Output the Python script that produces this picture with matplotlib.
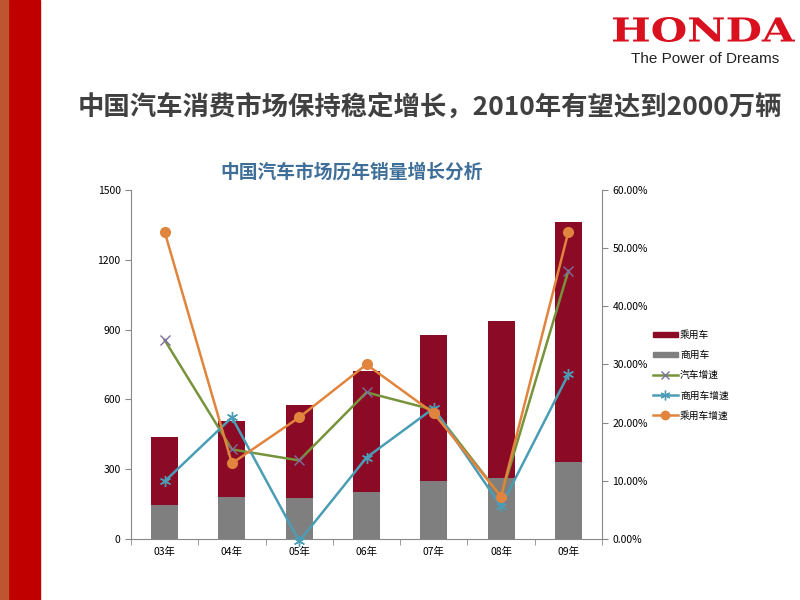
import numpy as np
import matplotlib.pyplot as plt
from matplotlib.patches import Rectangle, PathPatch
from matplotlib.lines import Line2D
from matplotlib.ticker import FuncFormatter
from matplotlib.textpath import TextPath
from matplotlib.font_manager import FontProperties
from matplotlib.transforms import Affine2D

plt.rcParams['font.family'] = ['Noto Sans CJK SC', 'DejaVu Sans']

years = ['03年', '04年', '05年', '06年', '07年', '08年', '09年']
commercial = [146, 182, 177, 202, 249, 262, 331]        # 商用车
total = [438, 507, 576, 722, 877, 937, 1362]
passenger = [t - c for t, c in zip(total, commercial)]   # 乘用车
growth_all = [34.2, 15.4, 13.5, 25.2, 22.2, 7.3, 46.1]          # 汽车增速 %
growth_commercial = [9.9, 20.9, -0.4, 14.0, 22.5, 5.6, 28.3]    # 商用车增速 %
growth_passenger = [52.8, 13.0, 20.9, 30.0, 21.6, 7.3, 52.8]    # 乘用车增速 %

c_red = '#8B0A25'
c_gray = '#7F7F7F'
c_green = '#77933C'
c_teal = '#4A9DB5'
c_orange = '#E0843E'

fig = plt.figure(figsize=(8, 6), dpi=100)
fig.patch.set_facecolor('white')

# left decoration strips
fig.patches.append(Rectangle((0, 0), 0.05, 1, transform=fig.transFigure,
                             color='#C00000', zorder=0))
fig.patches.append(Rectangle((0, 0), 0.01, 1, transform=fig.transFigure,
                             color='#BC5530', zorder=1))

# logo: stretch the word to the logo's box
tp = TextPath((0, 0), 'HONDA', size=1,
              prop=FontProperties(family='DejaVu Serif', weight='bold'))
ext = tp.get_extents()
sx = (795 - 613) / 800 / ext.width
sy = 25 / 600 / ext.height
tr = Affine2D().translate(-ext.x0, -ext.y0).scale(sx, sy).translate(613 / 800, (600 - 42) / 600)
fig.patches.append(PathPatch(tp, transform=tr + fig.transFigure,
                             color='#D9101E', lw=0))
fig.text(0.881, 0.902, 'The Power of Dreams', ha='center', va='center',
         fontsize=11, color='#222222', family='Liberation Sans')

fig.text(0.537, 0.822, '中国汽车消费市场保持稳定增长，2010年有望达到2000万辆',
         ha='center', va='center', fontsize=19, fontweight='bold',
         color='#404040')

ax = fig.add_axes([0.16375, 0.1017, 0.58875, 0.5817])
x = np.arange(len(years))
ax.bar(x, commercial, width=0.4, color=c_gray, zorder=2)
ax.bar(x, passenger, width=0.4, bottom=commercial, color=c_red, zorder=2)
ax.set_xlim(-0.5, 6.5)
ax.set_ylim(0, 1500)
ax.set_yticks([0, 300, 600, 900, 1200, 1500])
ax.set_xticks(x)
ax.set_xticklabels(years)
ax.set_xticks(np.arange(-0.5, 7, 1), minor=True)
ax.tick_params(axis='x', which='major', length=0, pad=6, labelsize=7.5)
ax.tick_params(axis='x', which='minor', length=4, color='#888888')
ax.tick_params(axis='y', length=4, color='#888888', labelsize=7.5)
for s in ['top', 'right']:
    ax.spines[s].set_visible(False)
for s in ['left', 'bottom']:
    ax.spines[s].set_color('#888888')

ax2 = ax.twinx()
ax2.set_ylim(0, 60)
ax2.set_yticks([0, 10, 20, 30, 40, 50, 60])
ax2.yaxis.set_major_formatter(FuncFormatter(lambda v, p: '%.2f%%' % v))
ax2.tick_params(axis='y', length=4, color='#888888', labelsize=7.5)
for s in ['top', 'left', 'bottom']:
    ax2.spines[s].set_visible(False)
ax2.spines['right'].set_color('#888888')

ax2.plot(x, growth_all, color=c_green, lw=1.8, marker='x', ms=7,
         mec='#7E6E9E', mew=1, clip_on=False, zorder=3)
ax2.plot(x, growth_commercial, color=c_teal, lw=1.8, marker=(6, 2, 0), ms=8,
         mec=c_teal, mew=1, clip_on=False, zorder=4)
ax2.plot(x, growth_passenger, color=c_orange, lw=1.8, marker='o', ms=7,
         clip_on=False, zorder=5)

fig.text(0.44, 0.713, '中国汽车市场历年销量增长分析', ha='center', va='center',
         fontsize=13.5, fontweight='bold', color='#3F6F99')

handles = [
    Rectangle((0, 0), 1, 1, color=c_red),
    Rectangle((0, 0), 1, 1, color=c_gray),
    Line2D([], [], color=c_green, lw=1.8, marker='x', ms=6, mec='#7E6E9E'),
    Line2D([], [], color=c_teal, lw=1.8, marker=(6, 2, 0), ms=7, mec=c_teal),
    Line2D([], [], color=c_orange, lw=1.8, marker='o', ms=6),
]
labels = ['乘用车', '商用车', '汽车增速', '商用车增速', '乘用车增速']
fig.legend(handles, labels, loc='upper left', bbox_to_anchor=(0.805, 0.465),
           frameon=False, fontsize=7, handlelength=2.6, handleheight=0.5,
           labelspacing=1.05, handletextpad=0.2)

fig.savefig('out.png', dpi=100)
